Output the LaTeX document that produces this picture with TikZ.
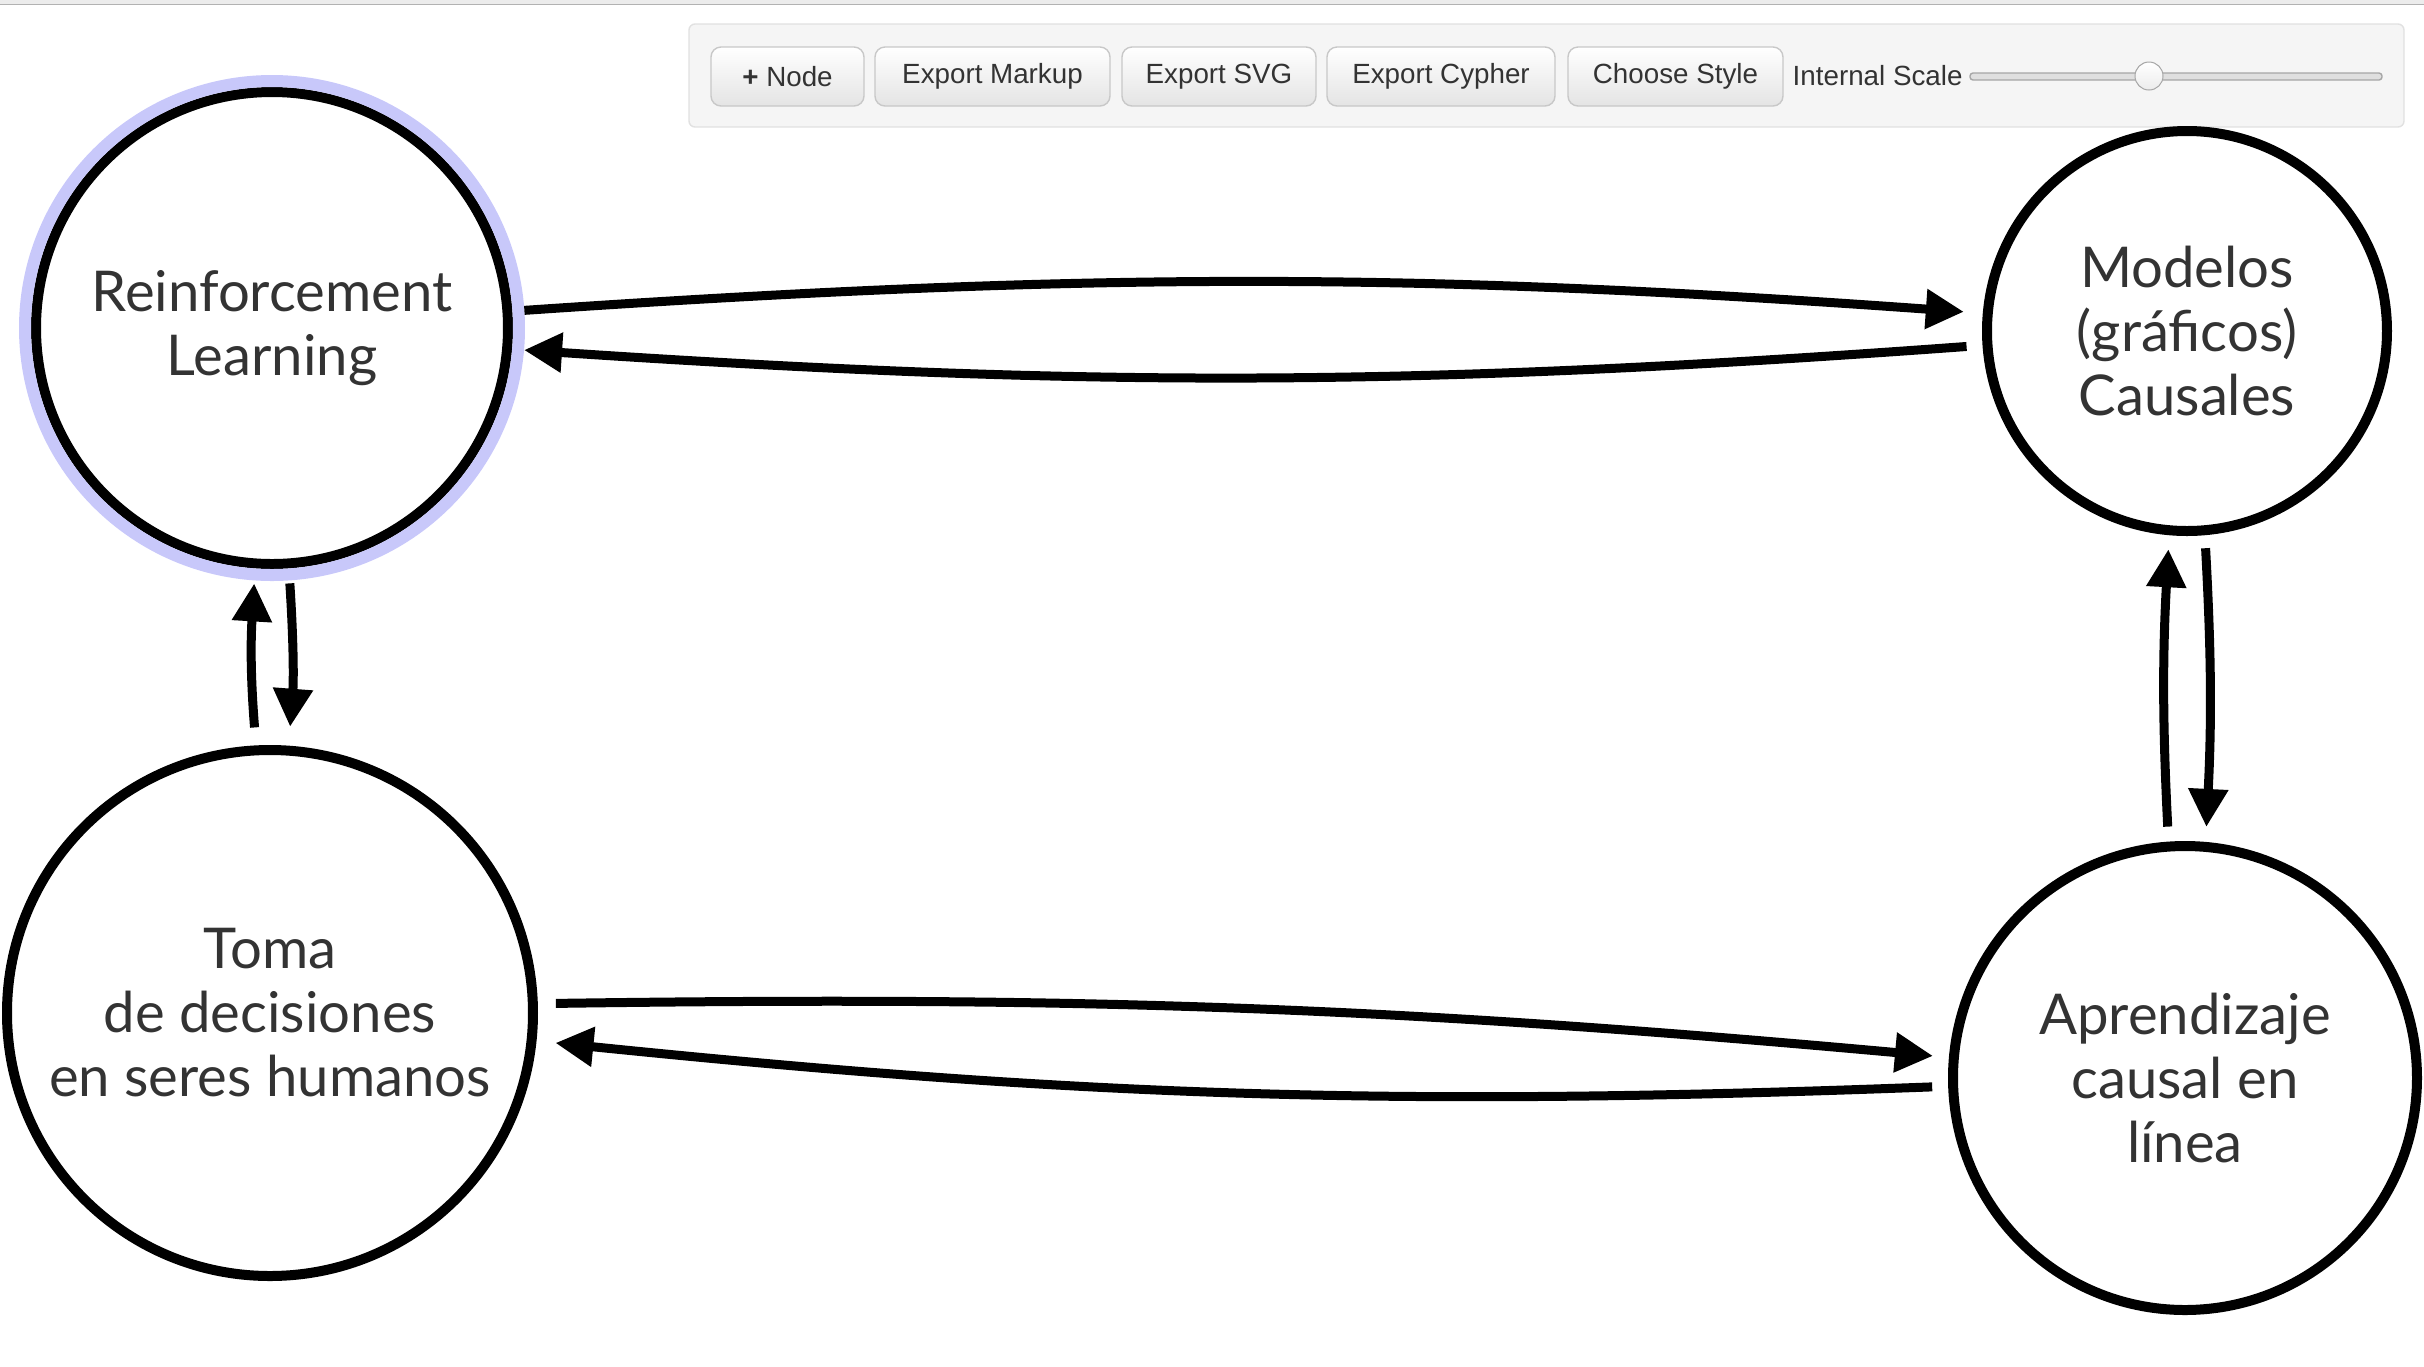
\documentclass[tikz,border=0pt]{standalone}
\usepackage{fontspec}
\usetikzlibrary{arrows.meta}
\newfontfamily\conceptfont{Lato}
\newfontfamily\uifont{Liberation Sans}
\definecolor{txtgray}{RGB}{51,51,51}
\definecolor{selring}{RGB}{200,200,250}
\definecolor{panelfill}{RGB}{245,245,245}
\definecolor{panelline}{RGB}{225,225,225}
\definecolor{btnline}{RGB}{200,200,200}
\definecolor{btnbottom}{RGB}{228,228,228}
\definecolor{topbar}{RGB}{236,236,236}

\begin{document}
\begin{tikzpicture}[x=0.1mm, y=-0.1mm,
    concept/.style={circle, draw, line width=1mm, fill=white, text=txtgray,
      align=center, inner sep=0pt, font=\conceptfont\fontsize{16}{18.2}\selectfont},
    link/.style={-{Triangle[length=3.8mm,width=3.8mm]}, line width=0.9mm},
    button/.style={draw=btnline, rounded corners=1mm, top color=white,
      bottom color=btnbottom, minimum height=5.9mm, inner sep=0pt, text=txtgray,
      font=\uifont\fontsize{7.9}{9}\selectfont}]
    \useasboundingbox (0,0) rectangle (2424,1366);

    % browser edge and toolbar
    \fill[topbar] (0,0) rectangle (2424,4);
    \draw[gray!60, line width=0.15mm] (0,4.5) -- (2424,4.5);
    \draw[panelline, fill=panelfill, rounded corners=0.6mm] (689,24) rectangle (2404,127);
    \foreach \xa/\xb/\lbl [count=\i] in {711/864/{{\bfseries+}~Node}, 875/1110/Export Markup,
        1122/1316/Export SVG, 1327/1555/Export Cypher, 1568/1783/Choose Style}
    {
        \node[button, minimum width={(\xb-\xa)*0.1mm}] (btn\i) at ({(\xa+\xb)/2},76.5) {\lbl};
    }
    \node[anchor=west, inner sep=0pt, text=txtgray, font=\uifont\fontsize{7.9}{9}\selectfont]
        (scalelbl) at (1792,76) {Internal Scale};
    \draw[gray!70, fill=gray!25, rounded corners=0.3mm] (1970,73) rectangle (2382,80);
    \node[circle, draw=gray!70, top color=white, bottom color=gray!15, line width=0.1mm,
        minimum size=2.8mm, inner sep=0pt] (knob) at (2149,76) {};

    % concepts
    \node[concept, minimum size=47.2mm, outer sep=1.7mm] (rl) at (272,328) {Reinforcement\\Learning};
    \node[concept, minimum size=40mm] (mc) at (2187,331) {Modelos\\(gráficos)\\Causales};
    \node[concept, minimum size=52.6mm] (toma) at (270,1013) {Toma\\de decisiones\\en seres humanos};
    \node[concept, minimum size=46.4mm] (acl) at (2185,1078) {Aprendizaje\\causal en\\línea};
    \draw[selring, line width=1.2mm] (rl.center) circle [radius=24.7mm];

    % links
    \draw[link, shorten >=1.9mm] (rl.4) to[bend left=4] (mc.175);
    \draw[link, shorten <=1.6mm] (mc.184) to[bend left=4] (rl.-5);
    \draw[link, shorten <=1.8mm, shorten >=1.6mm] (toma.2) to[bend left=3] (acl.175);
    \draw[link, shorten <=1.6mm, shorten >=1.9mm] (acl.182) to[bend left=4] (toma.-6);
    \draw[link, shorten <=1.8mm, shorten >=0.3mm] (toma.93) to[bend left=4] (rl.266);
    \draw[link, shorten <=0.3mm, shorten >=1.9mm] (rl.274) to[bend left=4] (toma.86);
    \draw[link, shorten <=1.5mm, shorten >=1.4mm] (acl.94) to[bend left=3] (mc.265);
    \draw[link, shorten <=1.3mm, shorten >=1.5mm] (mc.275) to[bend left=3] (acl.85);
\end{tikzpicture}
\end{document}
